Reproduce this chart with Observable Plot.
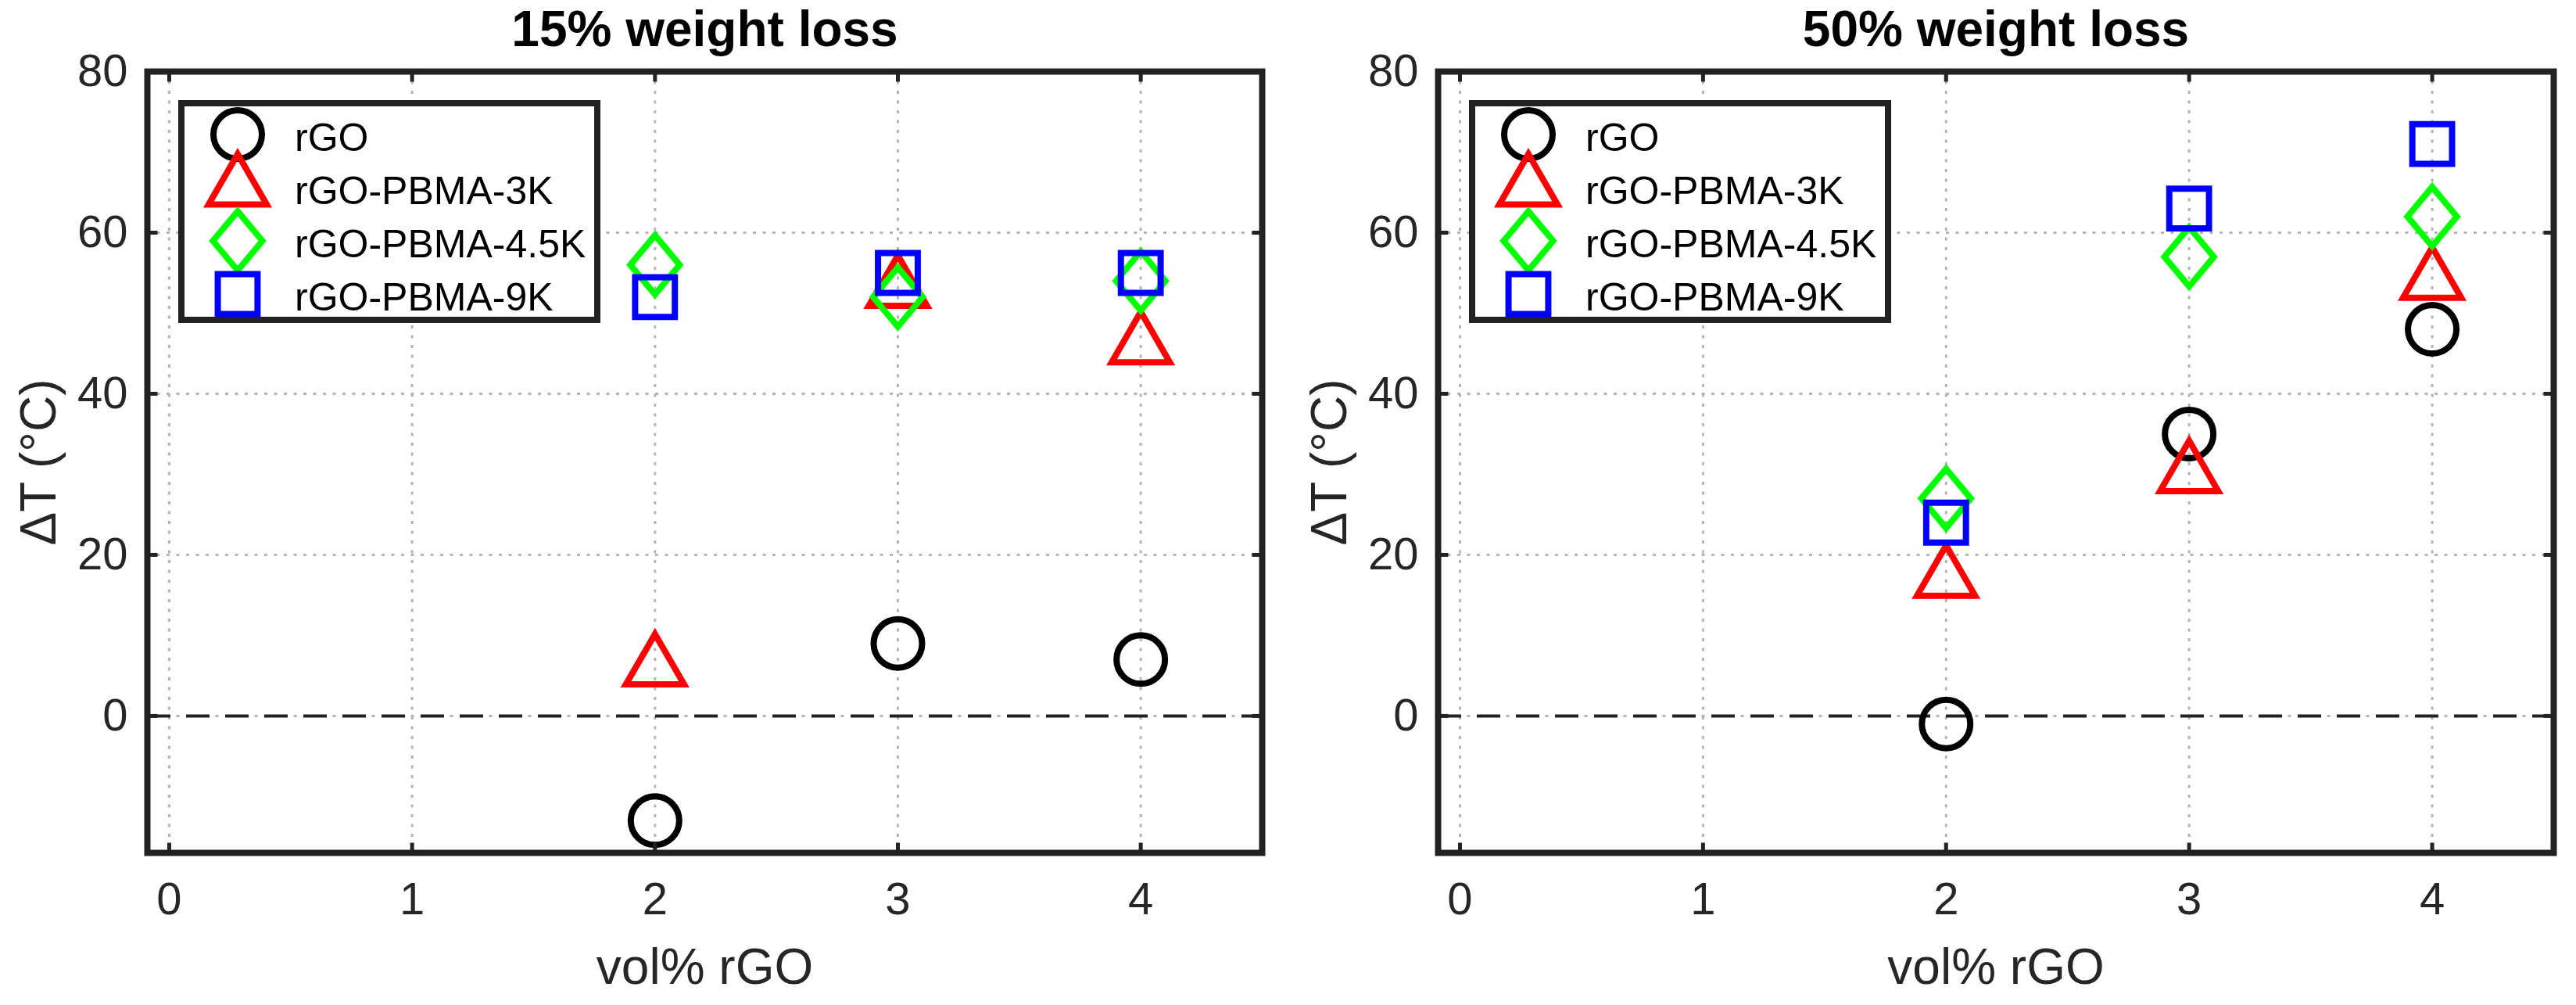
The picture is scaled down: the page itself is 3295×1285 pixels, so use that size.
<!DOCTYPE html>
<html>
<head>
<meta charset="utf-8">
<script src="https://cdn.jsdelivr.net/npm/d3@7"></script>
<script src="https://cdn.jsdelivr.net/npm/@observablehq/plot@0.6"></script>
<style>
  body { margin: 0; background: #fff; }
  #chart { position: relative; width: 3295px; height: 1285px; font-family: "Liberation Sans", Arial, sans-serif; }
  #chart > svg { position: absolute; top: 0; }
</style>
</head>
<body>
<div id="chart"></div>
<script>
// valores
const xs = [2, 3, 4];
const series = ['rGO', 'rGO-PBMA-3K', 'rGO-PBMA-4.5K', 'rGO-PBMA-9K'];
const colors = ['#000000', '#ff0000', '#00ff00', '#0000ff'];
const titles = ['15% weight loss', '50% weight loss'];

const rGO15 = [-13, 9, 7];
const pbma3k15 = [6, 53, 46];
const pbma45k15 = [56, 52, 54];
const pbma9k15 = [52, 55, 55];

const rGO50 = [-1, 35, 48];
const pbma3k50 = [17, 30, 54];
const pbma45k50 = [27, 57, 62];
const pbma9k50 = [24, 63, 71];

const xTicks = [0, 1, 2, 3, 4];
const yTicks = [0, 20, 40, 60, 80];
const xLabel = 'vol% rGO';
const yLabel = 'ΔT (°C)';

// marcadores estilo MATLAB
const tau = 2 * Math.PI;
const rad = (s) => Math.sqrt(s / Math.PI);
const circle = { draw(c, s) { const r = rad(s); c.moveTo(r, 0); c.arc(0, 0, r, 0, tau); c.closePath(); } };
const triangle = { draw(c, s) {
  const a = rad(s) * 1.2, h = a * 1.732;
  c.moveTo(0, -2 * h / 3); c.lineTo(a, h / 3); c.lineTo(-a, h / 3); c.closePath();
} };
const diamond = { draw(c, s) {
  const r = rad(s);
  c.moveTo(0, -1.22 * r); c.lineTo(1.02 * r, 0); c.lineTo(0, 1.22 * r); c.lineTo(-1.02 * r, 0); c.closePath();
} };
const square = { draw(c, s) { const r = rad(s) * 0.82; c.rect(-r, -r, 2 * r, 2 * r); } };
const symbols = [circle, triangle, diamond, square];

// ticks hacia adentro (box on)
const tickSym = (dx, dy) => ({ draw(c) { c.moveTo(0, 0); c.lineTo(dx * 13, dy * 13); } });

const panels = [
  { title: titles[0], values: [rGO15, pbma3k15, pbma45k15, pbma9k15], left: 0, width: 1650, marginLeft: 188, marginRight: 36 },
  { title: titles[1], values: [rGO50, pbma3k50, pbma45k50, pbma9k50], left: 1650, width: 1645, marginLeft: 189, marginRight: 29 },
];

const R = 31;
const ink = '#222222';

panels.forEach((p) => {
  const rows = p.values.flatMap((vals, i) => vals.map((v, j) => ({ series: series[i], x: xs[j], y: v })));

  const chart = Plot.plot({
    width: p.width,
    height: 1285,
    marginLeft: p.marginLeft,
    marginRight: p.marginRight,
    marginTop: 91,
    marginBottom: 195,
    x: { domain: [-0.09, 4.5], label: null },
    y: { domain: [-17, 80], label: null },
    style: { fontFamily: '"Liberation Sans", Arial, sans-serif', fontSize: '58px', color: '#262626', background: 'white', overflow: 'visible' },
    marks: [
      Plot.gridX(xTicks, { stroke: '#b4b4b4', strokeOpacity: 1, strokeWidth: 3, strokeDasharray: '4,8.5' }),
      Plot.gridY(yTicks, { stroke: '#b4b4b4', strokeOpacity: 1, strokeWidth: 3, strokeDasharray: '4,8.5' }),
      Plot.ruleY([0], { stroke: ink, strokeWidth: 4, strokeDasharray: '30,20' }),
      ...series.map((s, i) => Plot.dot(rows.filter((d) => d.series === s), {
        x: 'x', y: 'y', r: R, symbol: symbols[i], stroke: colors[i], fill: 'none', strokeWidth: 8,
      })),
      Plot.frame({ stroke: ink, strokeWidth: 8 }),
      Plot.dot(yTicks, { y: (d) => d, frameAnchor: 'left', symbol: tickSym(1, 0), stroke: ink, strokeWidth: 5, fill: 'none' }),
      Plot.dot(yTicks, { y: (d) => d, frameAnchor: 'right', symbol: tickSym(-1, 0), stroke: ink, strokeWidth: 5, fill: 'none' }),
      Plot.dot(xTicks, { x: (d) => d, frameAnchor: 'bottom', symbol: tickSym(0, -1), stroke: ink, strokeWidth: 5, fill: 'none' }),
      Plot.dot(xTicks, { x: (d) => d, frameAnchor: 'top', symbol: tickSym(0, 1), stroke: ink, strokeWidth: 5, fill: 'none' }),
      Plot.axisY(yTicks, { tickSize: 0, tickPadding: 25, label: null, tickFormat: d3.format('d') }),
      Plot.axisX(xTicks, { tickSize: 0, tickPadding: 37, label: null, tickFormat: d3.format('d') }),
      Plot.text([yLabel], { frameAnchor: 'left', dx: -138, rotate: -90, textAnchor: 'middle', lineAnchor: 'middle', fontSize: 64, fill: '#262626' }),
      Plot.text([xLabel], { frameAnchor: 'bottom', dy: 147, lineAnchor: 'middle', fontSize: 64, fill: '#262626' }),
      Plot.text([p.title], { frameAnchor: 'top', dy: -53, lineAnchor: 'middle', fontSize: 64, fontWeight: 'bold', fill: '#000' }),
    ],
  });
  chart.style.left = p.left + 'px';
  d3.select('#chart').append(() => chart);

  /* Leyenda dentro del área */
  const lw = 540, lh = 285;
  const legend = d3.create('svg')
    .attr('width', lw).attr('height', lh)
    .style('left', (p.left + p.marginLeft + 40) + 'px')
    .style('top', '128px');
  legend.append('rect')
    .attr('x', 4).attr('y', 4).attr('width', lw - 8).attr('height', lh - 8)
    .attr('fill', 'white').attr('stroke', ink).attr('stroke-width', 8);
  series.forEach((s, i) => {
    const cy = 44 + i * 68;
    const path = d3.path();
    symbols[i].draw(path, R * R * Math.PI);
    legend.append('path')
      .attr('d', path.toString())
      .attr('transform', `translate(76,${cy})`)
      .attr('fill', 'none').attr('stroke', colors[i]).attr('stroke-width', 8);
    legend.append('text')
      .attr('x', 149).attr('y', cy + 4)
      .attr('dominant-baseline', 'central')
      .attr('font-size', 50).attr('fill', '#000')
      .text(s);
  });
  d3.select('#chart').append(() => legend.node());
});
</script>
</body>
</html>
